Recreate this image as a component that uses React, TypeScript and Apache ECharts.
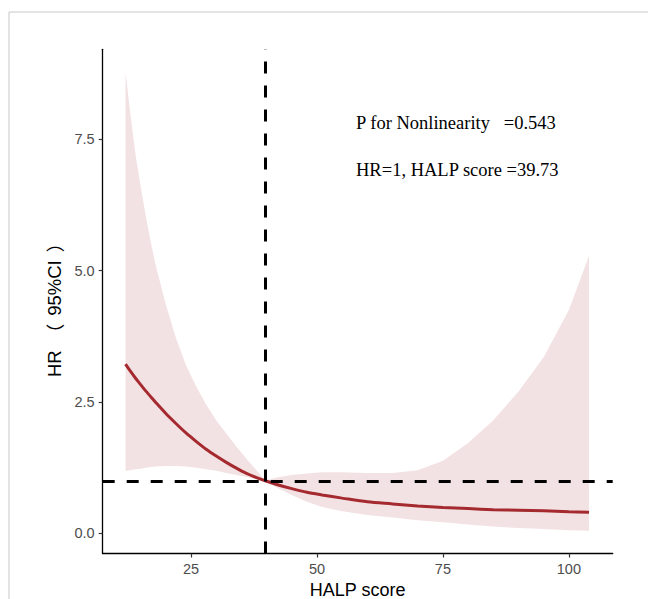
import React, { useEffect, useRef } from "react";
import * as echarts from "echarts";

const halp = [12, 13, 14, 15, 16, 17, 18, 20, 22, 24, 26, 28, 30, 32, 34, 36, 38, 39.73, 42, 45, 48, 51, 55, 60, 65, 70, 75, 80, 85, 90, 95, 100, 104];
const hr = [3.22, 3.08, 2.95, 2.83, 2.71, 2.6, 2.49, 2.28, 2.09, 1.91, 1.75, 1.6, 1.47, 1.35, 1.24, 1.14, 1.06, 1.0, 0.93, 0.85, 0.78, 0.73, 0.67, 0.6, 0.56, 0.52, 0.49, 0.47, 0.45, 0.44, 0.43, 0.41, 0.4];
const upper = [8.78, 7.95, 7.2, 6.6, 6.05, 5.55, 5.1, 4.35, 3.72, 3.2, 2.8, 2.45, 2.15, 1.9, 1.65, 1.42, 1.2, 1.0, 1.06, 1.11, 1.14, 1.16, 1.16, 1.15, 1.15, 1.2, 1.38, 1.72, 2.15, 2.7, 3.35, 4.25, 5.28];
const lower = [1.19, 1.2, 1.22, 1.23, 1.25, 1.26, 1.27, 1.28, 1.28, 1.27, 1.25, 1.22, 1.19, 1.15, 1.11, 1.07, 1.03, 1.0, 0.87, 0.73, 0.6, 0.5, 0.42, 0.35, 0.3, 0.25, 0.21, 0.17, 0.13, 0.1, 0.08, 0.06, 0.05];
const xTicks = [25, 50, 75, 100];
const yTicks = [0, 2.5, 5, 7.5];
const refHR = 1;
const refHALP = 39.73;
const xName = "HALP score";
const yNameParts = ["HR", "（", "95%CI", "）"];
const annotations = ["P for Nonlinearity   =0.543", "HR=1, HALP score =39.73"];

export default function App() {
  const ref = useRef<HTMLDivElement>(null);
  useEffect(() => {
    document.body.style.margin = "0";
    const chart = echarts.init(ref.current!, undefined, { renderer: "svg" });
    const hrData = halp.map((x, i) => [x, hr[i]]);
    const bandData = halp.map((x, i) => [x, lower[i], upper[i]]);
    const yName = `${yNameParts[0]}{p|${yNameParts[1]}}${yNameParts[2]}{p|${yNameParts[3]}}`;
    chart.setOption({
      animation: false,
      backgroundColor: "#ffffff",
      grid: {
        left: 102.7,
        right: 35.3,
        top: 49.3,
        bottom: 45.5,
        containLabel: false,
        outerBoundsMode: "none",
      },
      xAxis: {
        type: "value",
        min: 7.47,
        max: 108.7,
        name: xName,
        nameLocation: "middle",
        nameGap: 26,
        nameTextStyle: { fontFamily: "Liberation Sans", fontSize: 18, color: "#000" },
        splitLine: { show: false },
        axisLine: { show: true, onZero: false, lineStyle: { color: "#000", width: 1.3 } },
        axisTick: { show: true, length: 4, customValues: xTicks, lineStyle: { color: "#333", width: 1.2 } },
        axisLabel: {
          customValues: xTicks,
          margin: 8,
          fontFamily: "Liberation Sans",
          fontSize: 14.5,
          color: "#4D4D4D",
        },
      },
      yAxis: {
        type: "value",
        min: -0.384,
        max: 9.21,
        name: yName,
        nameLocation: "middle",
        nameGap: 35,
        nameRotate: 90,
        nameTextStyle: {
          fontFamily: "Liberation Sans",
          fontSize: 18.5,
          color: "#000",
          rich: {
            p: { fontFamily: "Noto Sans CJK SC", fontSize: 18.5, color: "#000", padding: [0, 8, 0, 8] },
          },
        },
        splitLine: { show: false },
        axisLine: { show: true, onZero: false, lineStyle: { color: "#000", width: 1.3 } },
        axisTick: { show: true, length: 4, customValues: yTicks, lineStyle: { color: "#333", width: 1.2 } },
        axisLabel: {
          customValues: yTicks,
          margin: 8,
          fontFamily: "Liberation Sans",
          fontSize: 14.5,
          color: "#4D4D4D",
          formatter: (v: number) => v.toFixed(1),
        },
      },
      series: [
        {
          type: "custom",
          data: bandData,
          encode: { x: 0, y: [1, 2] },
          silent: true,
          z: 1,
          renderItem: (params: any, api: any) => {
            if (params.dataIndex !== 0) return null;
            const up = halp.map((x, i) => api.coord([x, upper[i]]));
            const lo = halp.map((x, i) => api.coord([x, lower[i]])).reverse();
            return {
              type: "polygon",
              shape: { points: up.concat(lo) },
              style: { fill: "#F3E2E4", stroke: "none" },
            };
          },
        },
        {
          type: "line",
          data: hrData,
          symbol: "none",
          smooth: 0.3,
          lineStyle: { color: "#A52A2F", width: 3 },
          silent: true,
          z: 3,
        },
        {
          type: "line",
          data: [],
          silent: true,
          z: 5,
          markLine: {
            silent: true,
            symbol: ["none", "none"],
            label: { show: false },
            lineStyle: { color: "#000", width: 3, type: [12, 12] },
            data: [{ xAxis: refHALP }, { yAxis: refHR }],
          },
        },
      ],
      graphic: [
        {
          type: "rect",
          shape: { x: 9, y: 12, width: 700, height: 700 },
          style: { fill: "none", stroke: "#C8C8C8", lineWidth: 1 },
          silent: true,
          z: 10,
        },
        {
          type: "text",
          x: 356,
          y: 113,
          z: 10,
          style: { text: annotations[0], fontSize: 18.5, fontFamily: "Liberation Serif", fill: "#000" },
        },
        {
          type: "text",
          x: 356,
          y: 160,
          z: 10,
          style: { text: annotations[1], fontSize: 18.5, fontFamily: "Liberation Serif", fill: "#000" },
        },
      ],
    });
    return () => chart.dispose();
  }, []);
  return <div ref={ref} style={{ width: 648, height: 599 }} />;
}
